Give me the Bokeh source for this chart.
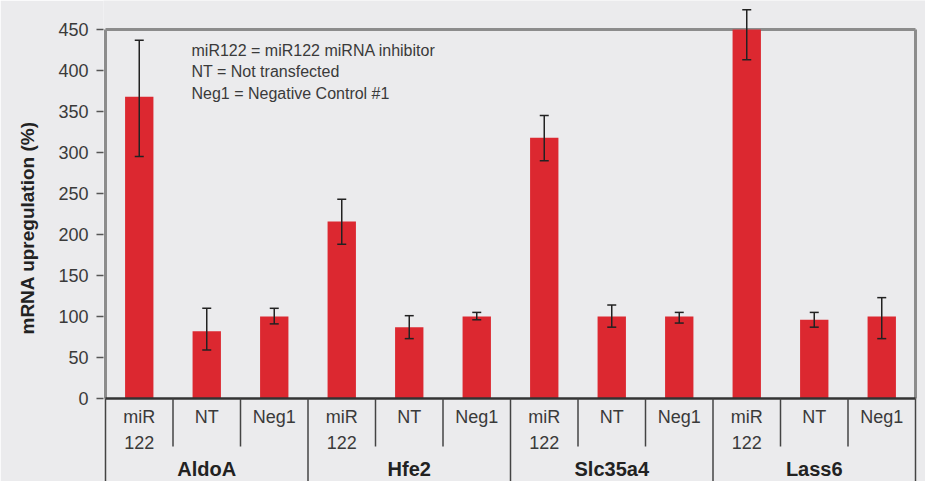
from bokeh.plotting import figure
from bokeh.models import ColumnDataSource, Range1d, FixedTicker, Whisker, TeeHead, Title
from bokeh.core.properties import value
from bokeh.embed import file_html
from bokeh.resources import INLINE

# ---- data ----
groups = ["AldoA", "Hfe2", "Slc35a4", "Lass6"]
subs = ["miR122", "NT", "Neg1"]
sub_labels = ["miR\n122", "NT", "Neg1"]
values = [368, 82, 100, 216, 87, 100, 318, 100, 100, 450, 96, 100]
upper = [437, 110, 110, 243, 101, 105, 345, 114, 105, 474, 105, 123]
lower = [295, 59, 91, 188, 73, 96, 290, 87, 92, 413, 87, 73]
y_ticks = [0, 50, 100, 150, 200, 250, 300, 350, 400, 450]
y_title = "mRNA upregulation (%)"
note_lines = ["miR122 = miR122 miRNA inhibitor",
              "NT = Not transfected",
              "Neg1 = Negative Control #1"]

# ---- layout constants ----
FONT = "Liberation Sans"
BG = "#ebebed"
RED = "#dc2830"
TXT = "#3a3a3a"
W, H = 925, 481
FRAME_LEFT = 103     # px
PLOT_LEFT, PLOT_TOP, PLOT_BOTTOM = 105, 29, 398   # px of the bordered area
PXX = 67.5           # px per category

n = len(groups) * len(subs)
xs = list(range(n))
ymax = y_ticks[-1]
PXY = (PLOT_BOTTOM - PLOT_TOP) / ymax
x_lo, x_hi = -0.5, n - 0.5


def xd(px):
    return x_lo + (px - PLOT_LEFT) / PXX


def yd(py):
    return (PLOT_BOTTOM - py) / PXY


p = figure(width=W, height=H, output_backend="svg", toolbar_location=None,
           x_range=Range1d(xd(FRAME_LEFT), xd(W)), y_range=Range1d(yd(H), yd(0)),
           x_axis_location=None, min_border_left=FRAME_LEFT, min_border_right=0,
           min_border_top=0, min_border_bottom=0)
p.background_fill_color = BG
p.border_fill_color = BG
p.outline_line_color = None
p.xgrid.grid_line_color = None
p.ygrid.grid_line_color = None

ax = p.yaxis[0]
ax.ticker = FixedTicker(ticks=y_ticks)
ax.axis_line_color = None
ax.major_tick_in = 0
ax.major_tick_out = 7
ax.major_tick_line_color = "#555555"
ax.major_tick_line_width = 1.5
ax.minor_tick_line_color = None
ax.major_label_text_font = FONT
ax.major_label_text_font_size = "18px"
ax.major_label_text_color = TXT
ax.major_label_standoff = 8

# y title: starts 334px from the top, reading upward
p.add_layout(Title(text=y_title, align="left", vertical_align="top", offset=H - 334, standoff=32,
                   text_font=FONT, text_font_size="19px", text_font_style="bold",
                   text_color="#222222"), "left")

# frame borders (drawn beneath the bars)
p.segment(x0=[x_lo, x_lo, x_hi], y0=[0, ymax, 0], x1=[x_lo, x_hi, x_hi], y1=[ymax, ymax, ymax],
          line_color="#8c8c8c", line_width=3)

# bars
src = ColumnDataSource(dict(x=xs, top=values, upper=upper, lower=lower))
p.vbar(x="x", top="top", width=0.42, bottom=0, source=src,
       fill_color=RED, line_color=None)
p.add_layout(Whisker(base="x", upper="upper", lower="lower", source=src, level="overlay",
                     line_color="#222222", line_width=1.5,
                     upper_head=TeeHead(size=9, line_color="#222222", line_width=1.5),
                     lower_head=TeeHead(size=9, line_color="#222222", line_width=1.5)))

p.segment(x0=[x_lo], y0=[0], x1=[x_hi], y1=[0], line_color="#333333", line_width=2.5)

# category table separators
bx = [k - 0.5 for k in range(n + 1)]
by = [yd(H) if k % len(subs) == 0 else yd(446) for k in range(n + 1)]
p.segment(x0=bx, y0=[0] * len(bx), x1=bx, y1=by, line_color="#444444", line_width=1.5)

# sub labels
p.text(x=xs, y=[yd(406)] * n, text=[sub_labels[i % len(subs)] for i in xs],
       text_font=value(FONT), text_font_size="18px", text_color=TXT,
       text_align="center", text_baseline="top", text_line_height=1.3)

# group labels
gx = [i * len(subs) + (len(subs) - 1) / 2 for i in range(len(groups))]
p.text(x=gx, y=[yd(468)] * len(groups), text=groups,
       text_font=value(FONT), text_font_size="20px", text_font_style="bold",
       text_color="#222222", text_align="center", text_baseline="middle")

# note text
p.text(x=[xd(191)], y=[yd(41)], text=["\n".join(note_lines)],
       text_font=value(FONT), text_font_size="16px", text_color=TXT,
       text_align="left", text_baseline="top", text_line_height=1.27)

open("out.html", "w").write(file_html(p, INLINE))
